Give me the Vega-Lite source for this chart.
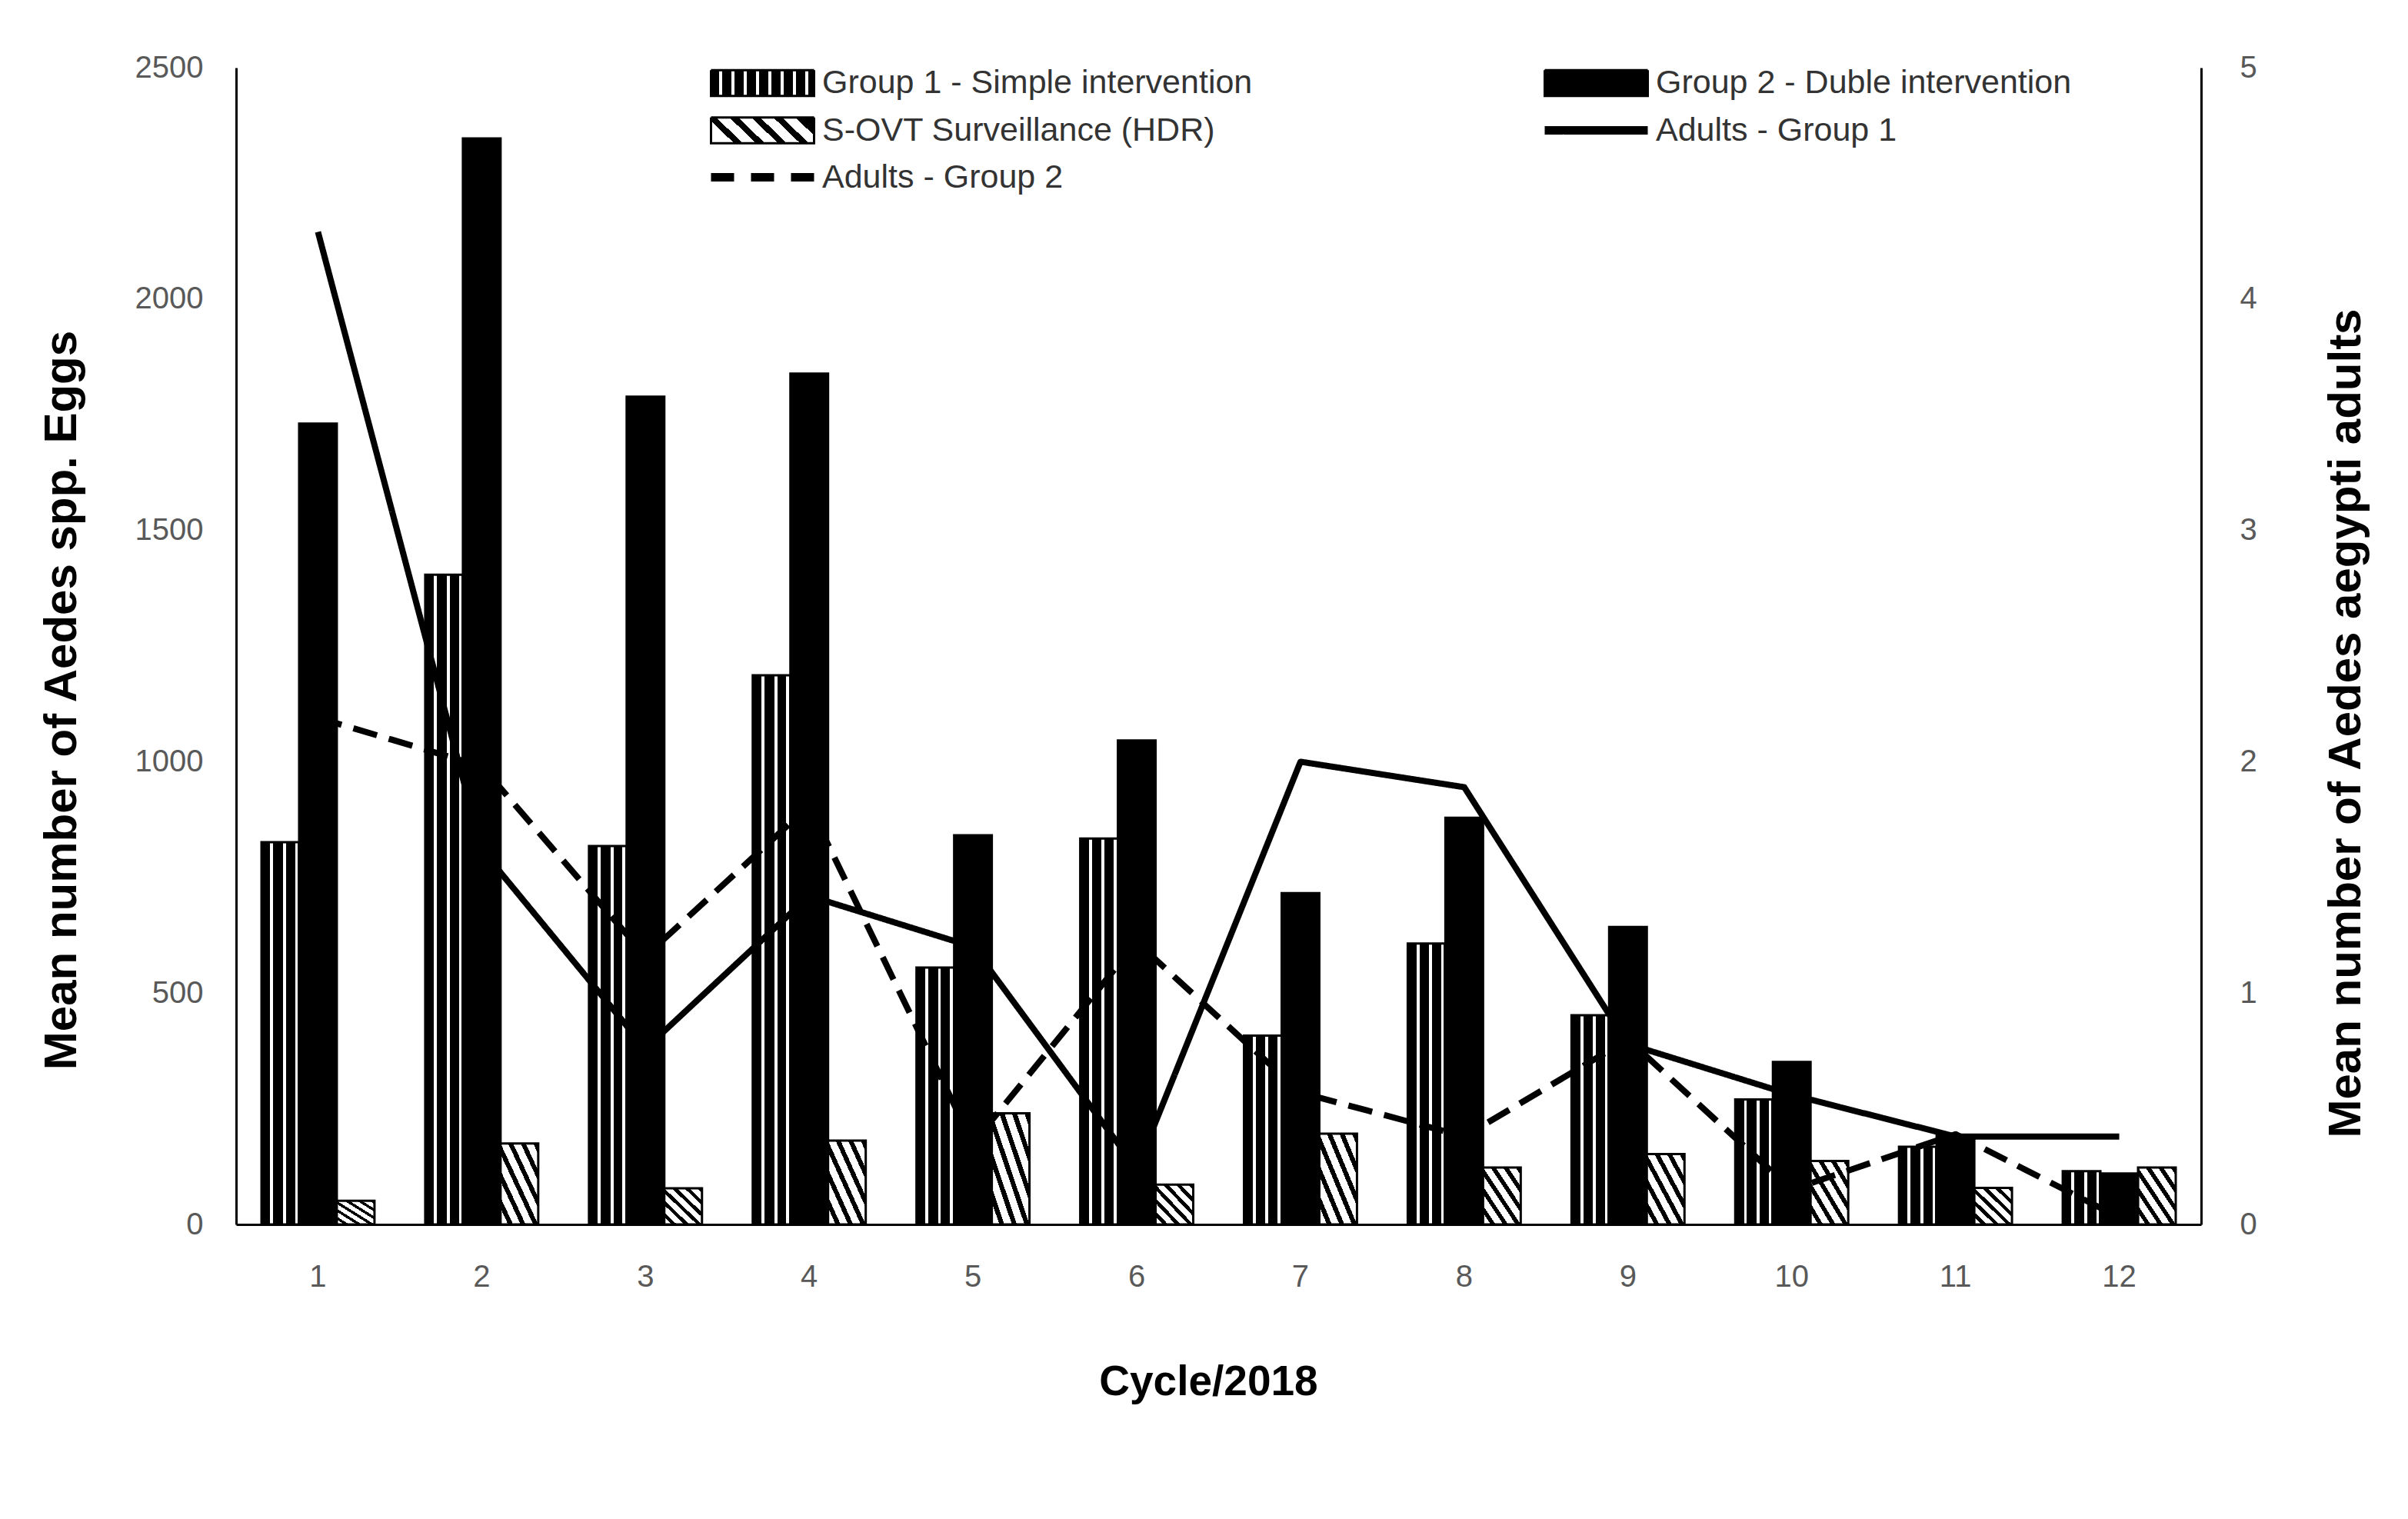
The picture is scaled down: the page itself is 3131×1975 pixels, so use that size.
{
  "$schema": "https://vega.github.io/schema/vega-lite/v6.json",
  "width": 2555,
  "height": 1504,
  "autosize": "none",
  "padding": {"left": 307, "top": 88, "right": 269, "bottom": 383},
  "background": "white",
  "config": {
    "view": {"stroke": null},
    "font": "Liberation Sans",
    "axis": {"grid": false, "ticks": false, "domainColor": "black", "domainWidth": 3, "labelFont": "Liberation Sans", "labelFontSize": 40, "labelColor": "#595959", "titleFont": "Liberation Sans", "titleFontWeight": "bold", "titleColor": "black"}
  },
  "datasets": {
    "eggs": [
      {"cycle": 1, "series": "Group 1 - Simple intervention", "value": 826},
      {"cycle": 2, "series": "Group 1 - Simple intervention", "value": 1404},
      {"cycle": 3, "series": "Group 1 - Simple intervention", "value": 818},
      {"cycle": 4, "series": "Group 1 - Simple intervention", "value": 1187},
      {"cycle": 5, "series": "Group 1 - Simple intervention", "value": 555},
      {"cycle": 6, "series": "Group 1 - Simple intervention", "value": 834},
      {"cycle": 7, "series": "Group 1 - Simple intervention", "value": 408},
      {"cycle": 8, "series": "Group 1 - Simple intervention", "value": 607},
      {"cycle": 9, "series": "Group 1 - Simple intervention", "value": 452},
      {"cycle": 10, "series": "Group 1 - Simple intervention", "value": 270},
      {"cycle": 11, "series": "Group 1 - Simple intervention", "value": 168},
      {"cycle": 12, "series": "Group 1 - Simple intervention", "value": 115},
      {"cycle": 1, "series": "Group 2 - Duble intervention", "value": 1731},
      {"cycle": 2, "series": "Group 2 - Duble intervention", "value": 2347},
      {"cycle": 3, "series": "Group 2 - Duble intervention", "value": 1789},
      {"cycle": 4, "series": "Group 2 - Duble intervention", "value": 1839},
      {"cycle": 5, "series": "Group 2 - Duble intervention", "value": 841},
      {"cycle": 6, "series": "Group 2 - Duble intervention", "value": 1046},
      {"cycle": 7, "series": "Group 2 - Duble intervention", "value": 716},
      {"cycle": 8, "series": "Group 2 - Duble intervention", "value": 879},
      {"cycle": 9, "series": "Group 2 - Duble intervention", "value": 643},
      {"cycle": 10, "series": "Group 2 - Duble intervention", "value": 351},
      {"cycle": 11, "series": "Group 2 - Duble intervention", "value": 193},
      {"cycle": 12, "series": "Group 2 - Duble intervention", "value": 110},
      {"cycle": 1, "series": "S-OVT Surveillance (HDR)", "value": 51},
      {"cycle": 2, "series": "S-OVT Surveillance (HDR)", "value": 175},
      {"cycle": 3, "series": "S-OVT Surveillance (HDR)", "value": 78},
      {"cycle": 4, "series": "S-OVT Surveillance (HDR)", "value": 181},
      {"cycle": 5, "series": "S-OVT Surveillance (HDR)", "value": 240},
      {"cycle": 6, "series": "S-OVT Surveillance (HDR)", "value": 86},
      {"cycle": 7, "series": "S-OVT Surveillance (HDR)", "value": 196},
      {"cycle": 8, "series": "S-OVT Surveillance (HDR)", "value": 123},
      {"cycle": 9, "series": "S-OVT Surveillance (HDR)", "value": 152},
      {"cycle": 10, "series": "S-OVT Surveillance (HDR)", "value": 137},
      {"cycle": 11, "series": "S-OVT Surveillance (HDR)", "value": 79},
      {"cycle": 12, "series": "S-OVT Surveillance (HDR)", "value": 123}
    ],
    "adults": [
      {"cycle": 1, "series": "Adults - Group 1", "value": 4.29},
      {"cycle": 2, "series": "Adults - Group 1", "value": 1.62},
      {"cycle": 3, "series": "Adults - Group 1", "value": 0.76},
      {"cycle": 4, "series": "Adults - Group 1", "value": 1.42},
      {"cycle": 5, "series": "Adults - Group 1", "value": 1.2},
      {"cycle": 6, "series": "Adults - Group 1", "value": 0.24},
      {"cycle": 7, "series": "Adults - Group 1", "value": 2.0},
      {"cycle": 8, "series": "Adults - Group 1", "value": 1.89},
      {"cycle": 9, "series": "Adults - Group 1", "value": 0.78},
      {"cycle": 10, "series": "Adults - Group 1", "value": 0.56},
      {"cycle": 11, "series": "Adults - Group 1", "value": 0.38},
      {"cycle": 12, "series": "Adults - Group 1", "value": 0.38},
      {"cycle": 1, "series": "Adults - Group 2", "value": 2.19},
      {"cycle": 2, "series": "Adults - Group 2", "value": 1.98},
      {"cycle": 3, "series": "Adults - Group 2", "value": 1.16},
      {"cycle": 4, "series": "Adults - Group 2", "value": 1.81},
      {"cycle": 5, "series": "Adults - Group 2", "value": 0.35},
      {"cycle": 6, "series": "Adults - Group 2", "value": 1.22},
      {"cycle": 7, "series": "Adults - Group 2", "value": 0.57},
      {"cycle": 8, "series": "Adults - Group 2", "value": 0.38},
      {"cycle": 9, "series": "Adults - Group 2", "value": 0.8},
      {"cycle": 10, "series": "Adults - Group 2", "value": 0.15},
      {"cycle": 11, "series": "Adults - Group 2", "value": 0.39},
      {"cycle": 12, "series": "Adults - Group 2", "value": 0.03}
    ]
  },
  "layer": [
    {
      "data": {"name": "eggs"},
      "encoding": {
        "x": {
          "field": "cycle", "type": "ordinal",
          "scale": {"paddingInner": 0.31, "paddingOuter": 0.155},
          "axis": {"title": "Cycle/2018", "titleFontSize": 55, "titleX": 1264, "titleY": 204, "titleBaseline": "middle", "labelAngle": 0, "labelPadding": 48}
        },
        "xOffset": {"field": "series", "type": "nominal", "scale": {"domain": ["Group 1 - Simple intervention", "Group 2 - Duble intervention", "S-OVT Surveillance (HDR)"]}},
        "y": {
          "field": "value", "type": "quantitative",
          "scale": {"domain": [0, 2500]},
          "axis": {"title": "Mean number of Aedes spp. Eggs", "titleFontSize": 60, "titleX": -227, "titleY": 822, "titleBaseline": "middle", "titleAngle": -90, "values": [0, 500, 1000, 1500, 2000, 2500], "format": "d", "labelPadding": 43}
        }
      },
      "layer": [
        {
          "transform": [{"filter": "datum.series === 'Group 1 - Simple intervention'"}],
          "mark": {"type": "bar", "stroke": "black", "strokeWidth": 3,
            "fill": {"gradient": "linear", "x1": 0, "y1": 0, "x2": 1, "y2": 0, "stops": [
                {"offset": 0, "color": "black"}, {"offset": 0.23, "color": "black"},
                {"offset": 0.23, "color": "white"}, {"offset": 0.31, "color": "white"},
                {"offset": 0.31, "color": "black"}, {"offset": 0.57, "color": "black"},
                {"offset": 0.57, "color": "white"}, {"offset": 0.65, "color": "white"},
                {"offset": 0.65, "color": "black"}, {"offset": 0.89, "color": "black"},
                {"offset": 0.89, "color": "white"}, {"offset": 0.96, "color": "white"},
                {"offset": 0.96, "color": "black"}, {"offset": 1, "color": "black"}]}}
        },
        {
          "transform": [{"filter": "datum.series === 'Group 2 - Duble intervention'"}],
          "mark": {"type": "bar", "stroke": "black", "strokeWidth": 3, "fill": "black"}
        },
        {
          "transform": [{"filter": "datum.series === 'S-OVT Surveillance (HDR)'"}],
          "mark": {"type": "bar", "stroke": "black", "strokeWidth": 3,
            "fill": {"gradient": "linear", "x1": 0, "y1": 1, "x2": 1, "y2": 0, "stops": [
                {"offset": 0, "color": "white"}, {"offset": 0.1, "color": "white"},
                {"offset": 0.1, "color": "black"}, {"offset": 0.1667, "color": "black"},
                {"offset": 0.1667, "color": "white"}, {"offset": 0.2667, "color": "white"},
                {"offset": 0.2667, "color": "black"}, {"offset": 0.3333, "color": "black"},
                {"offset": 0.3333, "color": "white"}, {"offset": 0.4333, "color": "white"},
                {"offset": 0.4333, "color": "black"}, {"offset": 0.5, "color": "black"},
                {"offset": 0.5, "color": "white"}, {"offset": 0.6, "color": "white"},
                {"offset": 0.6, "color": "black"}, {"offset": 0.6667, "color": "black"},
                {"offset": 0.6667, "color": "white"}, {"offset": 0.7667, "color": "white"},
                {"offset": 0.7667, "color": "black"}, {"offset": 0.8333, "color": "black"},
                {"offset": 0.8333, "color": "white"}, {"offset": 0.9333, "color": "white"},
                {"offset": 0.9333, "color": "black"}, {"offset": 1, "color": "black"}]}}
        }
      ]
    },
    {
      "data": {"name": "adults"},
      "mark": {"type": "line", "strokeWidth": 8, "strokeJoin": "round"},
      "encoding": {
        "x": {"field": "cycle", "type": "ordinal"},
        "y": {
          "field": "value", "type": "quantitative",
          "scale": {"domain": [0, 5]},
          "axis": {"orient": "right", "title": "Mean number of Aedes aegypti adults", "titleFontSize": 60, "titleX": 188, "titleY": 852, "titleBaseline": "middle", "titleAngle": -90, "values": [0, 1, 2, 3, 4, 5], "labelPadding": 50}
        },
        "color": {
          "field": "series", "type": "nominal",
          "scale": {
            "domain": ["Group 1 - Simple intervention", "S-OVT Surveillance (HDR)", "Adults - Group 2", "Group 2 - Duble intervention", "Adults - Group 1"],
            "range": ["black", "black", "black", "black", "black"]
          },
          "legend": {
            "orient": "none", "legendX": 663, "legendY": -2, "padding": 0,
            "title": null, "columns": 2, "columnPadding": 357, "rowPadding": 15,
            "symbolType": "M-1,-0.25L1,-0.25L1,0.25L-1,0.25Z", "symbolSize": 17956,
            "symbolStrokeWidth": 3, "symbolStrokeColor": "black",
            "labelFont": "Liberation Sans", "labelFontSize": 43, "labelColor": "#333333", "labelOffset": 56, "labelLimit": 1500,
            "encode": {
              "symbols": {
                "update": {
                  "shape": {"signal": "indexof(['Adults - Group 1', 'Adults - Group 2'], datum.value) >= 0 ? 'M-1,0L1,0' : 'M-1,-0.25L1,-0.25L1,0.25L-1,0.25Z'"},
                  "strokeWidth": {"signal": "indexof(['Adults - Group 1', 'Adults - Group 2'], datum.value) >= 0 ? 11 : 3"},
                  "strokeDash": {"signal": "datum.value === 'Adults - Group 2' ? [30, 22] : [1, 0]"},
                  "stroke": {"value": "black"},
                  "opacity": {"value": 1},
                  "fill": {"signal": "datum.value === 'Group 1 - Simple intervention' ? {gradient: 'linear', x1: 0, y1: 0, x2: 1, y2: 0, stops: [{offset: 0, color: 'black'}, {offset: 0.075, color: 'black'}, {offset: 0.075, color: 'white'}, {offset: 0.105, color: 'white'}, {offset: 0.105, color: 'black'}, {offset: 0.195, color: 'black'}, {offset: 0.195, color: 'white'}, {offset: 0.225, color: 'white'}, {offset: 0.225, color: 'black'}, {offset: 0.315, color: 'black'}, {offset: 0.315, color: 'white'}, {offset: 0.345, color: 'white'}, {offset: 0.345, color: 'black'}, {offset: 0.435, color: 'black'}, {offset: 0.435, color: 'white'}, {offset: 0.465, color: 'white'}, {offset: 0.465, color: 'black'}, {offset: 0.555, color: 'black'}, {offset: 0.555, color: 'white'}, {offset: 0.585, color: 'white'}, {offset: 0.585, color: 'black'}, {offset: 0.675, color: 'black'}, {offset: 0.675, color: 'white'}, {offset: 0.705, color: 'white'}, {offset: 0.705, color: 'black'}, {offset: 0.795, color: 'black'}, {offset: 0.795, color: 'white'}, {offset: 0.825, color: 'white'}, {offset: 0.825, color: 'black'}, {offset: 0.915, color: 'black'}, {offset: 0.915, color: 'white'}, {offset: 0.945, color: 'white'}, {offset: 0.945, color: 'black'}, {offset: 1, color: 'black'}]} : datum.value === 'S-OVT Surveillance (HDR)' ? {gradient: 'linear', x1: 0, y1: 0.63, x2: 1, y2: 0.37, stops: [{offset: 0, color: 'white'}, {offset: 0.12, color: 'white'}, {offset: 0.12, color: 'black'}, {offset: 0.2, color: 'black'}, {offset: 0.2, color: 'white'}, {offset: 0.32, color: 'white'}, {offset: 0.32, color: 'black'}, {offset: 0.4, color: 'black'}, {offset: 0.4, color: 'white'}, {offset: 0.52, color: 'white'}, {offset: 0.52, color: 'black'}, {offset: 0.6, color: 'black'}, {offset: 0.6, color: 'white'}, {offset: 0.72, color: 'white'}, {offset: 0.72, color: 'black'}, {offset: 0.8, color: 'black'}, {offset: 0.8, color: 'white'}, {offset: 0.92, color: 'white'}, {offset: 0.92, color: 'black'}, {offset: 1, color: 'black'}]} : datum.value === 'Group 2 - Duble intervention' ? 'black' : 'transparent'"}
                }
              }
            }
          }
        },
        "strokeDash": {"condition": {"test": "datum.series === 'Adults - Group 2'", "value": [32, 16]}, "value": [1, 0]}
      }
    }
  ],
  "resolve": {"scale": {"y": "independent"}, "axis": {"y": "independent"}}
}
